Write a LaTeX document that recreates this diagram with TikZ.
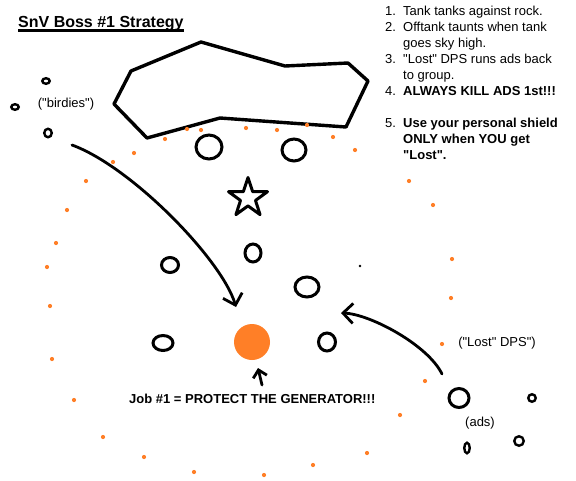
\documentclass[tikz,border=0pt]{standalone}
\usepackage{fontspec}
\setmainfont{Liberation Sans}
\usepackage{tikz}
\usetikzlibrary{arrows.meta, shapes.geometric}
\definecolor{paintorange}{RGB}{255,127,39}
\newcommand{\itemno}[1]{\makebox[18pt][l]{#1}}
\newcommand{\qq}{\textquotedbl}

\begin{document}
\begin{tikzpicture}[
  x=1pt, y=-1pt,
  player/.style={draw, ellipse, line width=3pt, inner sep=0pt},
  small/.style={draw, ellipse, line width=2.4pt, inner sep=0pt},
  orangedot/.style={fill=paintorange},
  barb/.style={-{Straight Barb[length=10pt, width=20pt]}, line width=2.8pt, line cap=round},
  txt/.style={font=\fontsize{13}{16}\selectfont, inner sep=0pt, align=left}
]
\useasboundingbox[fill=white] (0,0) rectangle (576,480);

% Title
\node[font=\fontsize{16}{19}\selectfont\bfseries, inner sep=0pt, anchor=base west] (title) at (18,27) {SnV Boss \#1 Strategy};
\draw[line width=2.2pt] ([yshift=-3.5pt]title.base west) -- ([yshift=-3.5pt]title.base east);

% Notes (top right)
\node[txt, anchor=north west] (notes) at (385,6) {%
  \itemno{1.}Tank tanks against rock.\\
  \itemno{2.}Offtank taunts when tank\\
  \hspace*{18pt}goes sky high.\\
  \itemno{3.}\qq Lost\qq{} DPS runs ads back\\
  \hspace*{18pt}to group.\\
  \itemno{4.}\textbf{ALWAYS KILL ADS 1st!!!}\\
  \strut\\
  \itemno{5.}\textbf{Use your personal shield}\\
  \hspace*{18pt}\textbf{ONLY when YOU get}\\
  \hspace*{18pt}\textbf{\qq Lost\qq.}};

% Rock
\draw[line width=3.4pt, line join=round] (131,71) -- (201,42) -- (285,66) -- (348,63) -- (368,81)
  -- (346,127) -- (220,118) -- (147,138) -- (114,104) -- cycle;

% Orange ring
\foreach \p in {(134,153),(165,139),(187,129),(201,130),(246,128),(277,130),(307,125),
  (333,137),(355,150),(113,162),(86,181),(67,210),(56,243),(47,267),(50,306),(52,359),
  (74,400),(103,437),(144,457),(194,472),(264,475),(313,465),(367,453),(400,415),
  (425,381),(442,344),(409,181),(433,205),(452,259),(451,298)}
  \fill[orangedot] \p circle (2.1);

% Birdies
\node[small, minimum width=7.5pt, minimum height=5.5pt] (bird1) at (46,81) {};
\node[small, minimum width=7.5pt, minimum height=5.5pt] (bird2) at (15,107) {};
\node[small, minimum width=7.5pt, minimum height=8.5pt] (bird3) at (48,133) {};
\node[txt] (birdies) at (66,104) {(\qq birdies\qq)};

% Tanks and boss
\node[player, minimum width=26pt, minimum height=24pt] (tank) at (209,147) {};
\node[player, minimum width=24pt, minimum height=22pt] (offtank) at (294,150) {};
\node[draw, star, star points=5, star point ratio=2.6, minimum size=41pt, inner sep=0pt,
  line width=3pt, line join=round] (boss) at (248,198) {};

% Raid
\node[player, minimum width=16pt, minimum height=18pt] (raid1) at (253,253) {};
\node[player, minimum width=17pt, minimum height=15pt] (raid2) at (170,265) {};
\node[player, minimum width=24pt, minimum height=20pt] (raid3) at (307,287) {};
\node[player, minimum width=20pt, minimum height=15pt] (raid4) at (163,343) {};
\node[player, minimum width=17pt, minimum height=18pt] (raid5) at (327,342) {};
\fill (360,266) circle (1.4);

% Generator
\node[circle, fill=paintorange, minimum size=36pt, inner sep=0pt] (gen) at (252,342) {};
\node[txt, font=\fontsize{13}{16}\selectfont\bfseries, anchor=west] (job) at (129,399)
  {Job \#1 = PROTECT THE GENERATOR!!!};

% Lost DPS and ads
\node[player, minimum width=20pt, minimum height=19pt] (lost) at (459,398) {};
\node[txt] (lostlabel) at (497,343) {(\qq Lost\qq{} DPS\qq)};
\node[small, minimum width=7.5pt, minimum height=7.5pt] (add1) at (532,398) {};
\node[small, minimum width=5.5pt, minimum height=10.5pt] (add2) at (467,448) {};
\node[small, minimum width=9.5pt, minimum height=9.5pt] (add3) at (519,441) {};
\node[txt] (adslabel) at (480,423) {(ads)};

% Arrows
\coordinate (birdstart) at (72,145);
\coordinate (birdend) at (236,307);
\coordinate (loststart) at (442,374);
\coordinate (lostend) at (341,313);
\coordinate (jobstart) at (262,385);
\coordinate (jobend) at (258,368);
\draw[barb] (birdstart) .. controls (132,167) and (222,260) .. (birdend);
\draw[barb] (loststart) .. controls (428,345) and (370,314) .. (lostend);
\draw[-{Straight Barb[length=7pt, width=14pt]}, line width=2.8pt, line cap=round] (jobstart) -- (jobend);

\end{tikzpicture}
\end{document}
